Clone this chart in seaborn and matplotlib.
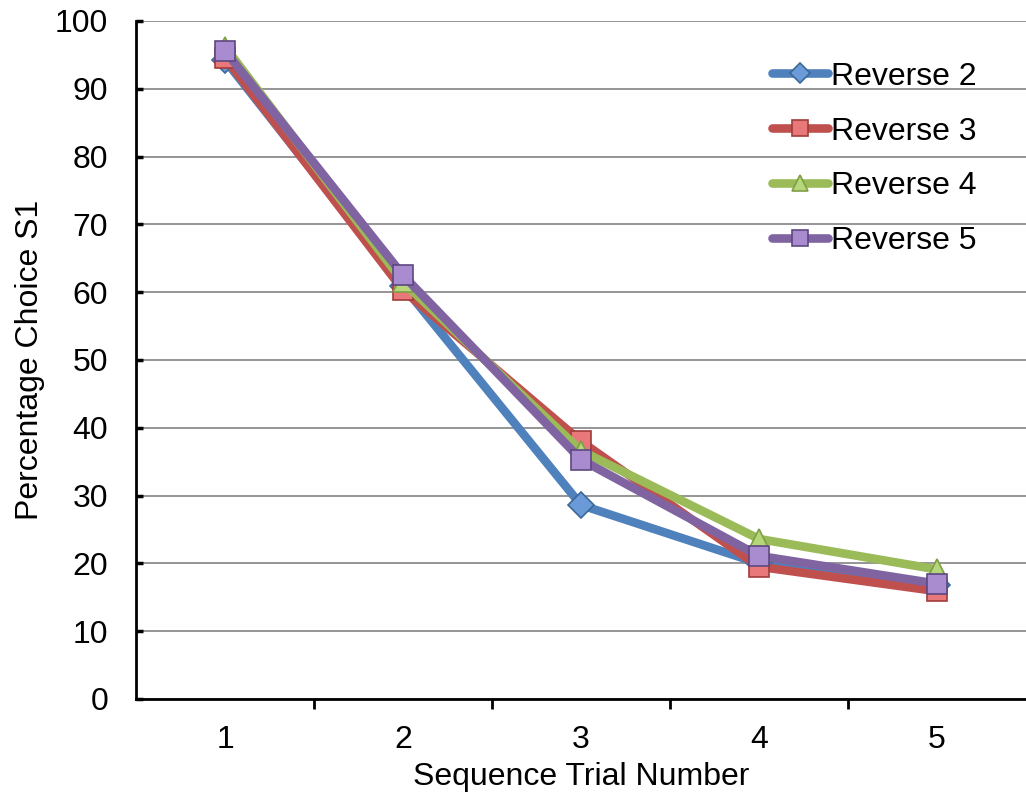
import matplotlib
matplotlib.use("Agg")
import matplotlib.pyplot as plt
import seaborn as sns
import pandas as pd
from matplotlib.ticker import FixedLocator

trials = [1, 2, 3, 4, 5]
reverse2 = [94.2, 60.9, 28.6, 20.0, 16.8]
reverse3 = [94.6, 60.3, 38.0, 19.5, 15.9]
reverse4 = [96.2, 61.5, 36.6, 23.6, 19.1]
reverse5 = [95.6, 62.5, 35.3, 21.1, 17.0]
series_names = ["Reverse 2", "Reverse 3", "Reverse 4", "Reverse 5"]

sns.set_theme(style="white")
plt.rcParams['font.family'] = ['Liberation Sans', 'DejaVu Sans']
plt.rcParams['text.color'] = 'black'
plt.rcParams['axes.labelcolor'] = 'black'
plt.rcParams['xtick.color'] = 'black'
plt.rcParams['ytick.color'] = 'black'

FS = 23

fig = plt.figure(figsize=(10.26, 8.06), dpi=100)
ax = fig.add_axes([0.1326, 0.1328, 0.8674, 0.8412])

styles = [
    dict(color="#4F81BD", marker="D", mfc="#6A9BD8", mec="#3C6899", ms=13),
    dict(color="#C0504D", marker="s", mfc="#E8787A", mec="#A03C3A", ms=15),
    dict(color="#9BBB59", marker="^", mfc="#B5D67A", mec="#7F9E45", ms=15),
    dict(color="#8064A2", marker="s", mfc="#A98BD0", mec="#5E4880", ms=15),
]
data = [reverse2, reverse3, reverse4, reverse5]

for name, vals, st in zip(series_names, data, styles):
    df = pd.DataFrame({"x": trials, "y": vals})
    sns.lineplot(data=df, x="x", y="y", ax=ax, color=st["color"], linewidth=6.2,
                 marker=st["marker"], markersize=st["ms"], markerfacecolor=st["mfc"],
                 markeredgecolor=st["mec"], markeredgewidth=1.2, label=name)

ax.set_xlim(0.5, 5.5)
ax.set_ylim(0, 100)
ax.set_yticks(range(0, 101, 10))
ax.set_xticks(trials)
ax.xaxis.set_minor_locator(FixedLocator([1.5, 2.5, 3.5, 4.5]))
ax.tick_params(axis="x", which="major", length=0, labelsize=FS, pad=19)
ax.tick_params(axis="x", which="minor", length=7, width=2, color="black", direction="out", bottom=True)
ax.tick_params(axis="y", which="major", length=5, width=2.5, color="black", direction="in", left=True, labelsize=FS, pad=20)
ax.yaxis.grid(True, color="#8C8C8C", linewidth=1.3)
ax.set_axisbelow(True)
for s in ["top", "right"]:
    ax.spines[s].set_visible(False)
for s in ["left", "bottom"]:
    ax.spines[s].set_color("black")
    ax.spines[s].set_linewidth(2)

ax.set_xlabel("Sequence Trial Number", fontsize=FS, labelpad=5)
ax.set_ylabel("Percentage Choice S1", fontsize=FS, labelpad=7)

leg = ax.legend(loc="upper right", bbox_to_anchor=(0.945, 0.94), frameon=False,
                fontsize=FS, handlelength=1.75, labelspacing=0.78, handletextpad=0.1,
                borderaxespad=0, borderpad=0, markerscale=0.75)

fig.savefig("out.png", dpi=100)
